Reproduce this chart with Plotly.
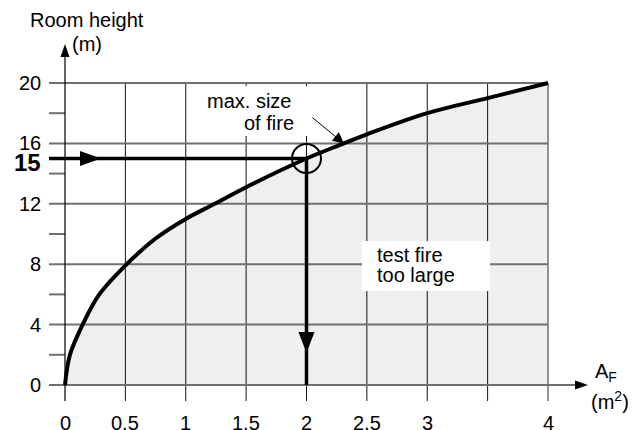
import plotly.graph_objects as go

# ---- data ----
area_m2 = [0, 0.041, 0.146, 0.284, 0.511, 0.75, 1.0, 1.24, 1.5, 2.0, 2.31, 2.5, 3.0, 3.5, 4.0]
room_height_m = [0, 2, 4, 6, 8, 9.7, 11, 12, 13.1, 15, 16, 16.6, 18, 19, 20]
x_tick_vals = [0, 0.5, 1, 1.5, 2, 2.5, 3, 4]
x_tick_text = ["0", "0,5", "1", "1,5", "2", "2,5", "3", "4"]
x_grid_vals = [0.5, 1, 1.5, 2, 2.5, 3, 3.5]
x_last = 4
y_tick_vals = [0, 4, 8, 12, 16, 20]
y_minor_vals = [2, 6, 10, 14, 18]
read_height = 15
read_area = 2
pointer_index = 10  # point on the curve the "max. size of fire" arrow points to

# ---- layout geometry (pixels) ----
W, H = 632, 430
X0_PX, Y0_PX = 65, 385
PX_X, PX_Y = 120.75, 15.1

def dx(px):
    return px / PX_X

def dy(px):
    return px / PX_Y

def px2x(px):
    return (px - X0_PX) / PX_X

def px2y(py):
    return (Y0_PX - py) / PX_Y

FONT = "Liberation Sans, Arial, Helvetica, sans-serif"
GRID_GREY = "#707070"
tick_len = 16

fig = go.Figure()

# fill under curve
fig.add_trace(go.Scatter(x=area_m2, y=room_height_m, mode="lines", fill="tozeroy",
                         fillcolor="#efefef", line=dict(width=0, shape="spline", smoothing=1.0),
                         hoverinfo="skip"))

# vertical grid lines
vx, vy = [], []
for v in x_grid_vals:
    vx += [v, v, None]
    vy += [max(y_tick_vals), -dy(tick_len), None]
fig.add_trace(go.Scatter(x=vx, y=vy, mode="lines", line=dict(color="#111111", width=1), hoverinfo="skip"))
fig.add_trace(go.Scatter(x=[x_last, x_last], y=[max(y_tick_vals), -dy(tick_len)], mode="lines",
                         line=dict(color=GRID_GREY, width=1.5), hoverinfo="skip"))

# horizontal grid lines + minor ticks
hx, hy = [], []
for v in y_tick_vals:
    hx += [-dx(tick_len), x_last, None]
    hy += [v, v, None]
for v in y_minor_vals:
    hx += [-dx(tick_len), 0, None]
    hy += [v, v, None]
fig.add_trace(go.Scatter(x=hx, y=hy, mode="lines", line=dict(color=GRID_GREY, width=2), hoverinfo="skip"))

# x axis line extension
fig.add_trace(go.Scatter(x=[0, px2x(580)], y=[0, 0], mode="lines",
                         line=dict(color=GRID_GREY, width=2), hoverinfo="skip"))
# y axis line
fig.add_trace(go.Scatter(x=[0, 0], y=[-dy(tick_len), px2y(52)], mode="lines",
                         line=dict(color="#000000", width=1.2), hoverinfo="skip"))

# curve
fig.add_trace(go.Scatter(x=area_m2, y=room_height_m, mode="lines",
                         line=dict(color="#000000", width=4, shape="spline", smoothing=1.0),
                         hoverinfo="skip"))

# reading lines
fig.add_trace(go.Scatter(x=[-dx(tick_len), read_area], y=[read_height, read_height], mode="lines",
                         line=dict(color="#000000", width=3.5), hoverinfo="skip"))
fig.add_trace(go.Scatter(x=[read_area, read_area], y=[read_height, 0], mode="lines",
                         line=dict(color="#000000", width=3.5), hoverinfo="skip"))

shapes = []
# white label boxes
shapes.append(dict(type="rect", xref="x", yref="y", x0=px2x(362), x1=px2x(490), y0=px2y(291), y1=px2y(241),
                   fillcolor="white", line=dict(width=0), layer="above"))
shapes.append(dict(type="rect", xref="x", yref="y", x0=px2x(205), x1=px2x(312), y0=px2y(136), y1=px2y(86),
                   fillcolor="white", line=dict(width=0), layer="above"))
# circle at reading point
shapes.append(dict(type="circle", xref="x", yref="y", xsizemode="pixel", ysizemode="pixel",
                   xanchor=read_area, yanchor=read_height, x0=-14.5, x1=14.5, y0=-14.5, y1=14.5,
                   line=dict(color="black", width=2), layer="above"))

def head(xa, ya, path):
    return dict(type="path", xref="x", yref="y", xsizemode="pixel", ysizemode="pixel",
                xanchor=xa, yanchor=ya, path=path, fillcolor="black", line=dict(width=0), layer="above")

shapes.append(head(px2x(101), read_height, "M0,0 L-21,7.5 L-21,-7.5 Z"))
shapes.append(head(read_area, px2y(353), "M0,0 L-8,21 L8,21 Z"))
shapes.append(head(0, px2y(44), "M0,0 L-4.5,-13 L4.5,-13 Z"))
shapes.append(head(px2x(588), 0, "M0,0 L-13,4.5 L-13,-4.5 Z"))

ann = []
fs = 20
for v in y_tick_vals:
    ann.append(dict(x=0, y=v, xref="x", yref="y", text=str(v), showarrow=False,
                    xanchor="right", yanchor="middle", xshift=-22, yshift=0,
                    font=dict(size=fs, color="black", family=FONT)))
ann.append(dict(x=0, y=read_height, xref="x", yref="y", text="<b>15</b>", showarrow=False,
                xanchor="right", yanchor="middle", xshift=-22, yshift=-4,
                font=dict(size=24, color="black", family=FONT)))
for v, t in zip(x_tick_vals, x_tick_text):
    ann.append(dict(x=v, y=0, xref="x", yref="y", text=t, showarrow=False,
                    xanchor="center", yanchor="middle", yshift=-38,
                    font=dict(size=fs, color="black", family=FONT)))

ann.append(dict(x=87 / W, y=1 - 20 / H, xref="paper", yref="paper", text="Room height", showarrow=False,
                xanchor="center", yanchor="middle", font=dict(size=fs, color="black", family=FONT)))
ann.append(dict(x=87 / W, y=1 - 44 / H, xref="paper", yref="paper", text="(m)", showarrow=False,
                xanchor="center", yanchor="middle", font=dict(size=fs, color="black", family=FONT)))
ann.append(dict(x=606 / W, y=1 - 372 / H, xref="paper", yref="paper", text="A<sub>F</sub>", showarrow=False,
                xanchor="center", yanchor="middle", font=dict(size=fs, color="black", family=FONT)))
ann.append(dict(x=610 / W, y=1 - 400 / H, xref="paper", yref="paper", text="(m<sup>2</sup>)", showarrow=False,
                xanchor="center", yanchor="middle", font=dict(size=fs, color="black", family=FONT)))

# labels inside the chart
ann.append(dict(x=px2x(293), y=px2y(101), xref="x", yref="y", text="max. size", showarrow=False,
                xanchor="right", yanchor="middle", font=dict(size=fs, color="black", family=FONT)))
ann.append(dict(x=px2x(296), y=px2y(123), xref="x", yref="y", text="of fire", showarrow=False,
                xanchor="right", yanchor="middle", font=dict(size=fs, color="black", family=FONT)))
ann.append(dict(x=px2x(375), y=px2y(255), xref="x", yref="y", text="test fire", showarrow=False,
                xanchor="left", yanchor="middle", font=dict(size=fs, color="black", family=FONT)))
ann.append(dict(x=px2x(375), y=px2y(275), xref="x", yref="y", text="too large", showarrow=False,
                xanchor="left", yanchor="middle", font=dict(size=fs, color="black", family=FONT)))

# pointer arrow to the curve
ann.append(dict(x=area_m2[pointer_index], y=room_height_m[pointer_index], xref="x", yref="y",
                ax=-33, ay=-27, axref="pixel", ayref="pixel", text="", showarrow=True,
                arrowhead=2, arrowsize=2.2, arrowwidth=1, arrowcolor="black", standoff=0))

fig.update_layout(
    width=W, height=H, margin=dict(l=0, r=0, t=0, b=0),
    paper_bgcolor="white", plot_bgcolor="white", showlegend=False,
    xaxis=dict(visible=False, range=[px2x(0), px2x(W)], fixedrange=True),
    yaxis=dict(visible=False, range=[px2y(H), px2y(0)], fixedrange=True),
    shapes=shapes, annotations=ann,
)

fig.write_html("out.html", config={"displayModeBar": False},
               post_script="document.body.style.margin='0';document.body.style.overflow='hidden';")
